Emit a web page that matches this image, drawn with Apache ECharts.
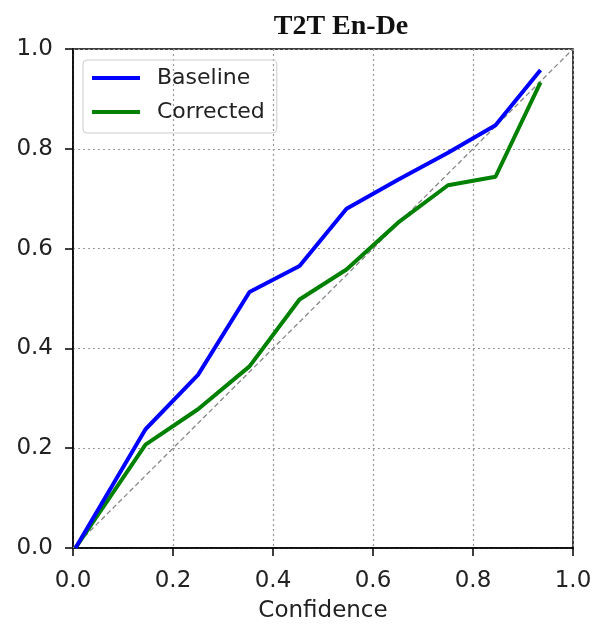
<!DOCTYPE html>
<html>
<head>
<meta charset="utf-8">
<script src="https://cdn.jsdelivr.net/npm/echarts@6/dist/echarts.min.js"></script>
<style>
  html, body { margin: 0; padding: 0; background: #fff; }
  #chart { width: 599px; height: 624px; }
</style>
</head>
<body>
<div id="chart"></div>
<script>
// reliability diagram data
const confidence = [0.005, 0.145, 0.25, 0.353, 0.453, 0.547, 0.65, 0.75, 0.845, 0.935];
const baseline   = [0.0, 0.238, 0.347, 0.513, 0.565, 0.680, 0.738, 0.792, 0.847, 0.958];
const corrected  = [0.0, 0.207, 0.278, 0.364, 0.498, 0.558, 0.652, 0.727, 0.744, 0.933];
const diagonal   = [[0, 0], [1, 1]];

const chart = echarts.init(document.getElementById('chart'));

function pairs(xs, ys) {
    return xs.map((x, i) => [x, ys[i]]);
}

const axisCommon = {
    type: 'value',
    min: 0,
    max: 1,
    interval: 0.2,
    axisLine: { show: true, lineStyle: { color: '#000', width: 1.5 } },
    axisTick: { show: true, length: 8, lineStyle: { color: '#000', width: 1.5 } },
    axisLabel: {
        color: '#222',
        fontSize: 23,
        fontFamily: 'DejaVu Sans',
        formatter: v => v.toFixed(1)
    },
    splitLine: { show: true, lineStyle: { color: '#999', type: [2, 3], width: 1.2 } }
};

const option = {
    animation: false,
    title: {
        text: 'T2T En-De',
        left: 336,
        textAlign: 'center',
        top: 8,
        textStyle: { fontFamily: 'Liberation Serif', fontWeight: 'bold', fontSize: 28, color: '#111' }
    },
    grid: {
        left: 73, right: 26, top: 49, bottom: 76,
        outerBoundsMode: 'none',
        show: true,
        borderColor: '#000',
        borderWidth: 1.5
    },
    legend: {
        left: 83,
        top: 60,
        orient: 'vertical',
        data: ['Baseline', 'Corrected'],
        icon: 'rect',
        itemWidth: 48,
        itemHeight: 4,
        itemGap: 12,
        padding: [7, 12, 10, 9],
        borderColor: '#ccc',
        borderWidth: 1,
        borderRadius: 4,
        textStyle: { fontSize: 22, fontFamily: 'DejaVu Sans', color: '#222', padding: [0, 0, 0, 12] }
    },
    xAxis: Object.assign({}, axisCommon, {
        axisLabel: Object.assign({}, axisCommon.axisLabel, { margin: 22 }),
        name: 'Confidence',
        nameLocation: 'middle',
        nameGap: 52,
        nameTextStyle: { fontSize: 23, fontFamily: 'DejaVu Sans', color: '#222' }
    }),
    yAxis: Object.assign({}, axisCommon, {
        axisLabel: Object.assign({}, axisCommon.axisLabel, { margin: 20 })
    }),
    series: [
        {
            name: 'Diagonal',
            type: 'line',
            data: diagonal,
            symbol: 'none',
            silent: true,
            lineStyle: { color: '#888', width: 1.3, type: [5, 3] },
            z: 1
        },
        {
            name: 'Baseline',
            type: 'line',
            data: pairs(confidence, baseline),
            symbol: 'none',
            itemStyle: { color: '#0000ff' },
            lineStyle: { color: '#0000ff', width: 4 },
            z: 3
        },
        {
            name: 'Corrected',
            type: 'line',
            data: pairs(confidence, corrected),
            symbol: 'none',
            itemStyle: { color: '#008000' },
            lineStyle: { color: '#008000', width: 4 },
            z: 2
        }
    ]
};

chart.setOption(option);
</script>
</body>
</html>
